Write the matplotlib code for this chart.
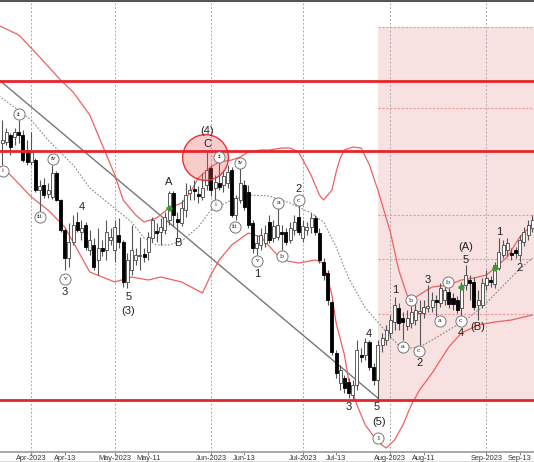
import matplotlib
matplotlib.use('Agg')
import matplotlib.pyplot as plt
import numpy as np

plt.rcParams['font.family'] = ['Liberation Sans', 'DejaVu Sans']

# x axis: trading day index (0 = 2023-03-22)
tick_days = [8, 16, 28, 36, 51, 59, 73, 81, 94, 102, 117, 125]
tick_labels = ['Apr-2023', 'Apr-13', 'May-2023', 'May-11', 'Jun-2023', 'Jun-13',
               'Jul-2023', 'Jul-13', 'Aug-2023', 'Aug-11', 'Sep-2023', 'Sep-13']
month_days = [8, 28, 51, 73, 94, 117]

opens = [355, 357, 358, 365, 363, 368, 365, 350, 338, 340, 310, 315, 306, 303, 327, 300, 270, 242, 258, 278,
         268, 275, 250, 255, 240, 252, 250, 260, 250, 265, 258, 218, 230, 240, 244, 246, 248, 262, 269, 268,
         270, 280, 307, 281, 277, 290, 307, 311, 306, 303, 315, 332, 312, 317, 315, 317, 330, 285, 300, 315,
         308, 277, 252, 255, 257, 278, 262, 263, 268, 268, 260, 270, 283, 262, 270, 273, 282, 267, 238, 227,
         198, 147, 117, 122, 118, 105, 115, 145, 145, 158, 133, 120, 155, 160, 167, 178, 192, 182, 174, 177,
         180, 187, 187, 192, 193, 200, 197, 200, 208, 202, 200, 192, 215, 220, 218, 195, 195, 215, 220, 216,
         232, 245, 250, 247, 250, 245, 258, 265, 272]
highs = [375, 380, 372, 367, 372, 380, 370, 360, 368, 342, 320, 322, 317, 335, 329, 301, 272, 277, 285, 288,
         280, 278, 270, 262, 272, 260, 280, 272, 280, 282, 260, 247, 275, 252, 263, 252, 268, 283, 277, 282,
         288, 309, 309, 288, 300, 317, 315, 320, 314, 327, 350, 335, 325, 338, 330, 335, 333, 305, 335, 320,
         315, 280, 265, 272, 275, 285, 280, 292, 275, 272, 278, 285, 295, 280, 278, 287, 285, 272, 242, 230,
         200, 150, 135, 125, 122, 120, 160, 152, 162, 160, 137, 160, 167, 175, 185, 203, 197, 188, 190, 194,
         197, 200, 200, 215, 208, 205, 217, 215, 212, 207, 204, 218, 235, 225, 223, 210, 222, 230, 224, 238,
         262, 260, 262, 252, 253, 265, 273, 280, 285]
lows = [350, 335, 355, 345, 355, 357, 338, 335, 335, 308, 288, 302, 302, 301, 299, 268, 230, 233, 255, 268,
        260, 250, 245, 230, 225, 244, 240, 255, 238, 252, 213, 212, 225, 235, 230, 238, 240, 258, 258, 255,
        266, 275, 274, 262, 274, 283, 300, 300, 297, 300, 310, 304, 300, 310, 308, 312, 283, 280, 297, 290,
        272, 247, 245, 250, 253, 257, 258, 260, 250, 255, 257, 265, 265, 258, 265, 267, 265, 237, 220, 195,
        145, 122, 110, 107, 102, 101, 110, 138, 140, 130, 115, 98, 148, 155, 162, 170, 170, 160, 170, 172,
        175, 155, 182, 188, 188, 184, 193, 195, 192, 190, 187, 184, 210, 200, 190, 180, 192, 210, 213, 212,
        230, 242, 244, 240, 242, 238, 254, 260, 268]
closes = [362, 360, 368, 353, 368, 365, 340, 338, 348, 310, 314, 305, 310, 327, 300, 270, 242, 258, 275, 270,
          272, 253, 260, 233, 252, 249, 268, 263, 273, 258, 218, 240, 250, 245, 245, 243, 263, 280, 267, 273,
          283, 307, 285, 278, 292, 305, 310, 309, 304, 312, 330, 310, 318, 313, 324, 328, 285, 302, 317, 293,
          275, 252, 257, 265, 267, 260, 274, 275, 266, 258, 272, 278, 268, 274, 273, 282, 268, 240, 225, 200,
          148, 127, 130, 112, 107, 115, 150, 143, 158, 133, 120, 155, 162, 170, 180, 195, 177, 178, 182, 188,
          190, 189, 193, 194, 200, 198, 212, 210, 196, 196, 190, 215, 225, 217, 193, 200, 217, 222, 218, 235,
          248, 255, 257, 245, 247, 260, 268, 275, 280]

# Bollinger bands
upper_days = [0, 5, 10, 15, 18, 22, 28, 30, 33, 35, 38, 41, 44, 46, 48, 51, 53, 56, 58, 60, 63, 65, 68, 70, 72,
              75, 77, 78, 80, 81, 82, 83, 85, 87, 89, 91, 94, 96, 98, 99, 102, 104, 108, 111, 114, 117, 119, 122,
              125, 128]
upper_vals = [475, 465, 443, 420, 408, 385, 325, 300, 285, 278, 282, 292, 297, 307, 322, 333, 338, 340, 343, 348,
              350, 350, 352, 352, 348, 325, 305, 300, 310, 328, 342, 350, 353, 352, 335, 310, 268, 230, 205, 200,
              208, 213, 215, 220, 222, 225, 232, 243, 263, 276]
mid_days = [0, 8, 12, 18, 22, 27, 32, 35, 38, 41, 44, 48, 51, 56, 60, 65, 70, 75, 78, 81, 84, 88, 91, 94, 96, 99,
            101, 104, 108, 112, 116, 120, 124, 128]
mid_vals = [405, 380, 360, 335, 312, 295, 278, 262, 255, 255, 259, 273, 290, 300, 305, 304, 297, 287, 278, 253,
            222, 192, 178, 163, 155, 152, 153, 160, 170, 180, 193, 210, 227, 242]
lower_days = [0, 3, 8, 12, 16, 20, 22, 28, 32, 36, 39, 44, 49, 51, 53, 56, 60, 63, 68, 72, 76, 78, 80, 81, 83, 84,
              86, 88, 91, 93, 95, 97, 99, 101, 104, 108, 111, 115, 119, 123, 128]
lower_vals = [335, 325, 303, 290, 273, 243, 228, 218, 223, 220, 223, 218, 207, 225, 240, 255, 267, 263, 240, 237,
              240, 237, 205, 177, 145, 120, 95, 75, 58, 52, 60, 75, 95, 110, 127, 153, 167, 175, 178, 180, 185]

levels = [419, 349, 100]
zone_days = [91, 129]
zone_range = [98, 473]
zone_lines = [392, 285, 241, 186]
trend_days = [0, 91]
trend_vals = [421, 102]

plain_text = ['3', '4', '5', '(3)', 'A', 'B', '(4)', 'C', '1', '2', '3', '4', '5', '(5)', '1', '2', '3',
              '(A)', '5', '4', '(B)', '1', '2']
plain_day = [16.1, 20.1, 31.2, 31.2, 41, 43.1, 50.1, 50.1, 62, 72.1, 84.1, 88.9, 90.8, 91.3, 95.1, 101.1, 103,
             112.1, 112.1, 110.9, 115, 120, 125]
plain_price = [208, 293, 203, 189, 318, 257, 369, 356, 226, 311, 93, 166, 93, 78, 210, 137, 220,
               253, 240, 167, 173, 268, 232]
circ_text = ['i', 'ii', 'iii', 'iv', 'v', 'i', 'ii', 'iii', 'iv', 'v', 'a', 'b', 'c',
             'a', 'b', 'c', 'a', 'b', 'c', '1']
circ_day = [1.2, 5.05, 10.1, 13.2, 16.1, 52.2, 53, 56.8, 58, 62, 67.1, 68, 72.1,
            97, 98.9, 100.8, 105.9, 107.8, 110.9, 91]
circ_price = [329, 386, 283, 341, 221, 295, 343, 273, 337, 239, 297, 244, 300,
              153, 200, 149, 179, 218, 179, 62]
cross_day = [41, 111, 119]
cross_price = [292, 213, 232]

fig = plt.figure(figsize=(5.34, 4.62), dpi=100)
ax = fig.add_axes([0, 10 / 462, 1, 451 / 462])

# shaded target zone
ax.fill_between(zone_days, zone_range[0], zone_range[1], color='#f7e1e1', zorder=0, lw=0)
ax.hlines([zone_range[1]] + zone_lines, zone_days[0], zone_days[1], colors='#ec9a9a',
          linestyles=(0, (2, 1.5)), lw=0.8, zorder=1)

for d in month_days:
    ax.axvline(d, color='#aaaaaa', lw=0.7, ls=(0, (2, 2)), zorder=1)

ax.hlines(levels, -5, 140, colors='#e8242b', lw=2, zorder=6)
ax.plot(trend_days, trend_vals, color='#777777', lw=1, zorder=2)

ax.plot(upper_days, upper_vals, color='#f06060', lw=0.9, zorder=2)
ax.plot(lower_days, lower_vals, color='#f06060', lw=0.9, zorder=2)
ax.plot(mid_days, mid_vals, color='#888888', lw=0.8, ls=(0, (1.5, 1.5)), zorder=2)

# candles
o = np.array(opens)
h = np.array(highs)
l = np.array(lows)
c = np.array(closes)
x = np.arange(len(o))
up = c >= o
ax.vlines(x, l, h, color='#555555', lw=0.8, zorder=3)
ax.bar(x[up], c[up] - o[up], bottom=o[up], width=0.72, facecolor='white', edgecolor='#444444', lw=0.6, zorder=4)
ax.bar(x[~up], o[~up] - c[~up], bottom=c[~up], width=0.72, facecolor='black', edgecolor='black', lw=0.6, zorder=4)

ax.plot(cross_day, cross_price, 'P', color='#3a9a3a', ms=3.5, zorder=5)

# wave (4) highlight
ax.plot([49.6], [343], 'o', ms=33, mfc=(0.93, 0.35, 0.35, 0.3), mec='#e8333a', mew=1.0, zorder=5)

for t, d, p in zip(plain_text, plain_day, plain_price):
    ax.text(d, p, t, ha='center', va='center', fontsize=8, color='#222222', zorder=7)
for t, d, p in zip(circ_text, circ_day, circ_price):
    ax.plot([d], [p], 'o', ms=8, mfc='white', mec='#777777', mew=0.7, zorder=7)
    ax.text(d, p, t, ha='center', va='center', fontsize=4.5, family='DejaVu Serif', color='#222222', zorder=8)

ax.set_xlim(0.5, 128.4)
ax.set_ylim(48, 499)
ax.set_yticks([])
ax.set_xticks(tick_days)
ax.set_xticklabels(tick_labels, fontsize=5.3, color='#333333')
ax.tick_params(axis='x', length=2, pad=0.5, color='#888888')
for s in ['left', 'right']:
    ax.spines[s].set_visible(False)
ax.spines['top'].set_color('#555555')
ax.spines['top'].set_linewidth(1.5)
ax.spines['bottom'].set_color('#999999')
ax.spines['bottom'].set_linewidth(1.2)

fig.add_artist(plt.Line2D([0, 1], [0.001, 0.001], color='#444444', lw=1.0))

fig.savefig('out.png', dpi=100)
